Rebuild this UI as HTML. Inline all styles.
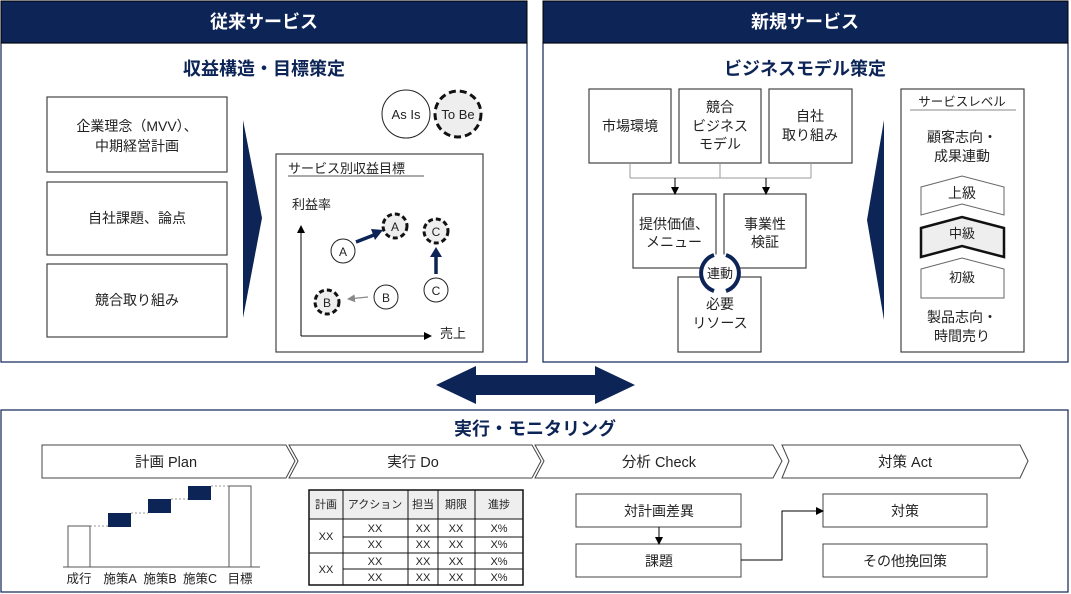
<!DOCTYPE html>
<html><head><meta charset="utf-8"><style>
html,body{margin:0;padding:0;background:#fff;}
svg{display:block;font-family:"Liberation Sans","Noto Sans CJK JP",sans-serif;}
</style></head><body>
<svg width="1071" height="594" viewBox="0 0 1071 594" xmlns="http://www.w3.org/2000/svg">
<defs>
<marker id="ar" markerWidth="8" markerHeight="8" refX="7" refY="4" orient="auto" markerUnits="userSpaceOnUse"><path d="M0,0 L8,4 L0,8 z" fill="#000"/></marker>
<marker id="ag" markerWidth="8" markerHeight="8" refX="7" refY="4" orient="auto" markerUnits="userSpaceOnUse"><path d="M0,0 L8,4 L0,8 z" fill="#888"/></marker>
</defs>
<g fill="none" stroke="#0d2456" stroke-width="1.2">
<rect x="1" y="43" width="526" height="319" fill="#fff"/>
<rect x="543" y="43" width="525" height="319" fill="#fff"/>
<rect x="1" y="410" width="1067" height="182" fill="#fff"/>
</g>
<rect x="1" y="1" width="526" height="42" fill="#0d2456" stroke="#000" stroke-width="1"/>
<rect x="543" y="1" width="525" height="42" fill="#0d2456" stroke="#000" stroke-width="1"/>
<g font-weight="bold" font-size="18" text-anchor="middle">
<text x="264" y="28" fill="#fff">従来サービス</text>
<text x="805" y="28" fill="#fff">新規サービス</text>
<text x="264" y="75" fill="#0d2456">収益構造・目標策定</text>
<text x="805" y="75" fill="#0d2456">ビジネスモデル策定</text>
<text x="535" y="435" fill="#0d2456">実行・モニタリング</text>
</g>
<g fill="#fff" stroke="#444" stroke-width="1.2">
<rect x="47" y="97" width="180" height="75"/>
<rect x="47" y="182" width="180" height="73"/>
<rect x="47" y="264" width="180" height="73"/>
<rect x="276" y="154" width="207" height="198"/>
<rect x="589" y="89" width="82" height="74"/>
<rect x="679" y="89" width="82" height="74"/>
<rect x="769" y="89" width="83" height="74"/>
<rect x="633" y="194" width="83" height="74"/>
<rect x="724" y="194" width="82" height="74"/>
<rect x="678" y="277" width="83" height="75"/>
<rect x="901" y="89" width="123" height="263"/>
</g>
<g font-size="14" text-anchor="middle" fill="#222">
<text x="137" y="131">企業理念（MVV）、</text>
<text x="137" y="151">中期経営計画</text>
<text x="137" y="223">自社課題、論点</text>
<text x="137" y="305">競合取り組み</text>
<text x="630" y="131">市場環境</text>
<text x="720" y="112">競合</text>
<text x="720" y="131">ビジネス</text>
<text x="720" y="149">モデル</text>
<text x="810" y="121">自社</text>
<text x="810" y="140">取り組み</text>
<text x="674" y="229">提供価値、</text>
<text x="674" y="247">メニュー</text>
<text x="765" y="229">事業性</text>
<text x="765" y="247">検証</text>
<text x="720" y="309">必要</text>
<text x="720" y="328">リソース</text>
<text x="962" y="142">顧客志向・</text>
<text x="962" y="161">成果連動</text>
<text x="962" y="322">製品志向・</text>
<text x="962" y="341">時間売り</text>
</g>
<text x="962" y="106" font-size="12.5" text-anchor="middle" fill="#222">サービスレベル</text>
<line x1="910" y1="110" x2="1016" y2="110" stroke="#888"/>
<text x="288" y="173" font-size="13" fill="#222">サービス別収益目標</text>
<line x1="288" y1="176" x2="424" y2="176" stroke="#555"/>
<path d="M243,120 L262,218 L243,318 z" fill="#0d2456"/>
<path d="M884,120 L867,220 L884,320 z" fill="#0d2456"/>
<circle cx="406" cy="114" r="24" fill="#fff" stroke="#222" stroke-width="1"/>
<text x="406" y="119" font-size="13" text-anchor="middle" fill="#222">As Is</text>
<circle cx="458" cy="114" r="23" fill="#eee" stroke="#111" stroke-width="3" stroke-dasharray="7,4"/>
<text x="458" y="119" font-size="13" text-anchor="middle" fill="#222">To Be</text>
<line x1="301" y1="336" x2="301" y2="226" stroke="#000" marker-end="url(#ar)"/>
<line x1="301" y1="336" x2="431" y2="336" stroke="#000" marker-end="url(#ar)"/>
<text x="292" y="209" font-size="13" fill="#222">利益率</text>
<text x="440" y="338" font-size="13" fill="#222">売上</text>
<g font-size="12" text-anchor="middle" fill="#222">
<circle cx="343" cy="251" r="12" fill="#fff" stroke="#222"/><text x="343" y="256">A</text>
<circle cx="395" cy="226" r="12" fill="#eee" stroke="#111" stroke-width="3" stroke-dasharray="5,3"/><text x="395" y="231">A</text>
<circle cx="436" cy="231" r="12" fill="#eee" stroke="#111" stroke-width="3" stroke-dasharray="5,3"/><text x="436" y="236">C</text>
<circle cx="436" cy="290" r="12" fill="#fff" stroke="#222"/><text x="436" y="295">C</text>
<circle cx="386" cy="297" r="12" fill="#fff" stroke="#222"/><text x="386" y="302">B</text>
<circle cx="327" cy="302" r="12" fill="#eee" stroke="#111" stroke-width="3" stroke-dasharray="5,3"/><text x="327" y="307">B</text>
</g>
<line x1="356" y1="242" x2="374" y2="235" stroke="#0d2456" stroke-width="3.5"/>
<path d="M383,230 L371,229 L375,240 z" fill="#0d2456"/>
<line x1="436" y1="274" x2="436" y2="256" stroke="#0d2456" stroke-width="3.5"/>
<path d="M436,247 L430,257 L442,257 z" fill="#0d2456"/>
<line x1="368" y1="297" x2="348" y2="299" stroke="#888" stroke-width="1.3" marker-end="url(#ag)"/>
<g stroke="#999" fill="none" stroke-width="1">
<path d="M630,163 V178 M720,163 V178 M811,163 V178 M630,178 H811"/>
</g>
<line x1="675" y1="178" x2="675" y2="194" stroke="#000" marker-end="url(#ar)"/>
<line x1="766" y1="178" x2="766" y2="194" stroke="#000" marker-end="url(#ar)"/>
<circle cx="720" cy="273" r="19" fill="#fff" stroke="none"/>
<path d="M714,255 A19,19 0 0 0 714,291" fill="none" stroke="#0d2456" stroke-width="4"/>
<path d="M726,291 A19,19 0 0 0 726,255" fill="none" stroke="#0d2456" stroke-width="4"/>
<text x="720" y="278" font-size="13" text-anchor="middle" fill="#222">連動</text>
<path d="M921,187 L962,176 L1004,187 L1004,215 L962,204 L921,215 z" fill="#fff" stroke="#666"/>
<text x="962" y="198" font-size="14" text-anchor="middle" fill="#222">上級</text>
<path d="M921,228 L962,217 L1004,228 L1004,257 L962,246 L921,257 z" fill="#eee" stroke="#111" stroke-width="2.5"/>
<text x="962" y="238" font-size="13" text-anchor="middle" fill="#222">中級</text>
<path d="M921,269 L962,258 L1004,269 L1004,298 L921,298 z" fill="#fff" stroke="#666"/>
<text x="962" y="282" font-size="13" text-anchor="middle" fill="#222">初級</text>
<path d="M436,385 L476,366 L476,375 L595,375 L595,366 L635,385 L595,404 L595,395 L476,395 L476,404 z" fill="#0d2456"/>
<g fill="#fff" stroke="#444" stroke-width="1">
<path d="M42,445 L286,445 L295,461 L286,478 L42,478 z"/>
<path d="M289,445 L532,445 L541,461 L532,478 L289,478 L298,461 z"/>
<path d="M535,445 L773,445 L782,461 L773,478 L535,478 L544,461 z"/>
<path d="M782,445 L1020,445 L1028,461 L1020,478 L782,478 L789,461 z"/>
</g>
<g font-size="14.5" text-anchor="middle" fill="#222">
<text x="166" y="467">計画 Plan</text>
<text x="413" y="467">実行 Do</text>
<text x="659" y="467">分析 Check</text>
<text x="905" y="467">対策 Act</text>
</g>
<g stroke="#999" stroke-dasharray="2,2" stroke-width="1">
<path d="M90,526 H108 M131,513 H148 M171,499 H188 M211,486 H229"/>
</g>
<rect x="68" y="526" width="22" height="41" fill="#fff" stroke="#555"/>
<rect x="229" y="486" width="22" height="81" fill="#fff" stroke="#555"/>
<rect x="108" y="513" width="23" height="14" fill="#0d2456"/>
<rect x="148" y="499" width="23" height="14" fill="#0d2456"/>
<rect x="188" y="486" width="23" height="14" fill="#0d2456"/>
<line x1="63" y1="567" x2="260" y2="567" stroke="#555"/>
<g font-size="12.5" fill="#222" text-anchor="middle">
<text x="79" y="583">成行</text><text x="120" y="583">施策A</text><text x="160" y="583">施策B</text><text x="200" y="583">施策C</text><text x="240" y="583">目標</text>
</g>
<rect x="309" y="490" width="214" height="29" fill="#eee"/>
<g stroke="#111" fill="none" stroke-width="1">
<rect x="309" y="490" width="214" height="95" stroke-width="1.5"/>
<path d="M309,519 H523 M343,537 H523 M309,553 H523 M343,569 H523"/>
<path d="M343,490 V585 M408,490 V585 M438,490 V585 M475,490 V585"/>
</g>
<g font-size="11" fill="#222" text-anchor="middle">
<text x="326" y="508">計画</text><text x="375" y="508">アクション</text><text x="423" y="508">担当</text><text x="456" y="508">期限</text><text x="499" y="508">進捗</text>
<text x="326" y="540">XX</text><text x="326" y="573">XX</text>
<text x="375" y="532">XX</text><text x="423" y="532">XX</text><text x="456" y="532">XX</text><text x="499" y="532">X%</text>
<text x="375" y="548">XX</text><text x="423" y="548">XX</text><text x="456" y="548">XX</text><text x="499" y="548">X%</text>
<text x="375" y="565">XX</text><text x="423" y="565">XX</text><text x="456" y="565">XX</text><text x="499" y="565">X%</text>
<text x="375" y="581">XX</text><text x="423" y="581">XX</text><text x="456" y="581">XX</text><text x="499" y="581">X%</text>
</g>
<g fill="#fff" stroke="#444" stroke-width="1">
<rect x="576" y="494" width="165" height="33"/>
<rect x="576" y="544" width="165" height="33"/>
<rect x="823" y="494" width="164" height="33"/>
<rect x="823" y="544" width="164" height="33"/>
</g>
<line x1="659" y1="527" x2="659" y2="544" stroke="#000" marker-end="url(#ar)"/>
<path d="M741,560 H782 V511 H823" fill="none" stroke="#000" marker-end="url(#ar)"/>
<g font-size="14" text-anchor="middle" fill="#222">
<text x="659" y="516">対計画差異</text>
<text x="659" y="566">課題</text>
<text x="905" y="516">対策</text>
<text x="905" y="566">その他挽回策</text>
</g>
</svg>
</body></html>
